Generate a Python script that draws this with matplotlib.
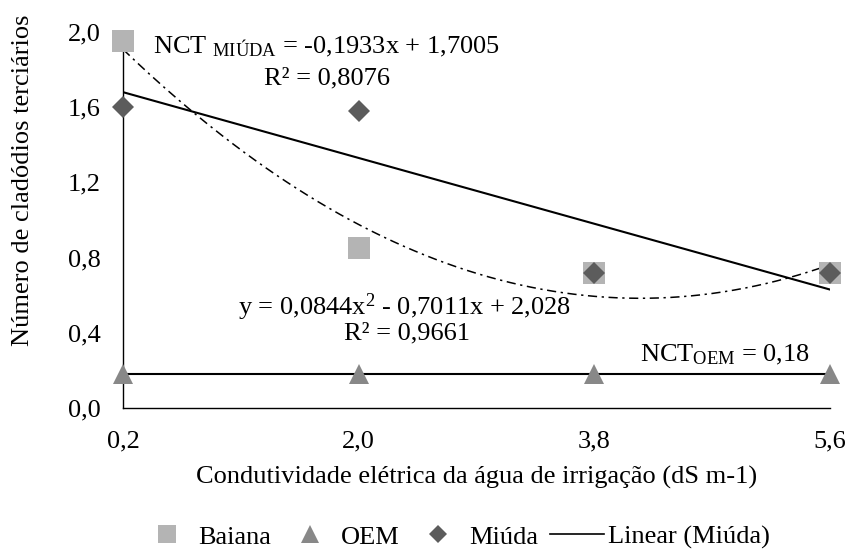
import matplotlib
matplotlib.use("Agg")
import matplotlib.pyplot as plt
from matplotlib.lines import Line2D
import numpy as np

# dados
condutividade = [0.2, 2.0, 3.8, 5.6]
tick_labels = ["0,2", "2,0", "3,8", "5,6"]
baiana = [1.95, 0.85, 0.72, 0.72]
oem = [0.18, 0.18, 0.18, 0.18]
miuda = [1.60, 1.58, 0.72, 0.72]
y_ticks = [0.0, 0.4, 0.8, 1.2, 1.6, 2.0]
y_tick_labels = ["0,0", "0,4", "0,8", "1,2", "1,6", "2,0"]

plt.rcParams["font.family"] = ["Liberation Serif", "DejaVu Serif"]
plt.rcParams["mathtext.fontset"] = "custom"
plt.rcParams["mathtext.rm"] = "Liberation Serif"
plt.rcParams["mathtext.it"] = "Liberation Serif"

FS = 19
W, H = 850, 550

fig = plt.figure(figsize=(8.5, 5.5), dpi=100)
ax = fig.add_axes([123 / W, 1 - 408 / H, 707 / W, 376 / H])

x = np.array(condutividade)
xs = np.linspace(x[0], x[-1], 200)

# tendencias
lin = np.polyfit(x, miuda, 1)
quad = np.polyfit(x, baiana, 2)
ax.plot(xs, np.polyval(quad, xs), color="black", lw=1.1, dashes=(6, 3, 1.5, 3), zorder=2)
ax.plot(xs, np.polyval(lin, xs), color="black", lw=1.5, zorder=2)
ax.plot(x, np.full_like(x, np.mean(oem)), color="black", lw=1.5, zorder=2)

ax.plot(x, baiana, "s", color="#b4b4b4", ms=15.5, mew=0, clip_on=False, zorder=3)
ax.plot(x, oem, "^", color="#888888", ms=14, mew=0, clip_on=False, zorder=3)
ax.plot(x, miuda, "D", color="#5c5c5c", ms=11, mew=0, clip_on=False, zorder=4)

ax.set_xlim(0.2, 5.6)
ax.set_ylim(0, 2.0)
ax.set_xticks(condutividade)
ax.set_xticklabels(tick_labels)
ax.set_yticks(y_ticks)
ax.set_yticklabels(y_tick_labels)
ax.tick_params(length=0, labelsize=FS)
ax.tick_params(axis="y", pad=16)
ax.tick_params(axis="x", pad=16)
for s in ["top", "right"]:
    ax.spines[s].set_visible(False)
for s in ["left", "bottom"]:
    ax.spines[s].set_color("black")
    ax.spines[s].set_linewidth(1.0)

ax.set_xlabel("Condutividade elétrica da água de irrigação (dS m-1)", fontsize=FS)
ax.xaxis.label.set_va("center")
ax.xaxis.set_label_coords(0.5, (408 - 477) / 376)
fig.text(23 / W, 1 - 180 / H, "Número de cladódios terciários", fontsize=FS,
         rotation=90, ha="center", va="center")

# equacoes
fig.text(153 / W, 1 - 47 / H, r"NCT $_{\mathrm{MIÚDA}}$ = -0,1933x + 1,7005",
         fontsize=FS, ha="left", va="center")
fig.text(327 / W, 1 - 78 / H, "R² = 0,8076", fontsize=FS, ha="center", va="center")
fig.text(405 / W, 1 - 307 / H, r"y = 0,0844x$^{2}$ - 0,7011x + 2,028",
         fontsize=FS, ha="center", va="center")
fig.text(407 / W, 1 - 333 / H, "R² = 0,9661", fontsize=FS, ha="center", va="center")
fig.text(810 / W, 1 - 355 / H, r"NCT$_{\mathrm{OEM}}$ = 0,18", fontsize=FS, ha="right", va="center")

handles = [
    Line2D([], [], ls="none", marker="s", color="#b4b4b4", ms=13, mew=0),
    Line2D([], [], ls="none", marker="^", color="#888888", ms=13, mew=0),
    Line2D([], [], ls="none", marker="D", color="#5c5c5c", ms=8.7, mew=0),
    Line2D([], [], color="black", lw=1.2),
]
fig.legend(handles, ["Baiana", "OEM", "Miúda", "Linear (Miúda)"], loc="center",
           bbox_to_anchor=(455 / W, 1 - 537 / H), ncol=4, frameon=False, fontsize=FS,
           handlelength=2.05, handletextpad=0.15, columnspacing=0.45, borderpad=0)

fig.savefig("out.png", dpi=100)
